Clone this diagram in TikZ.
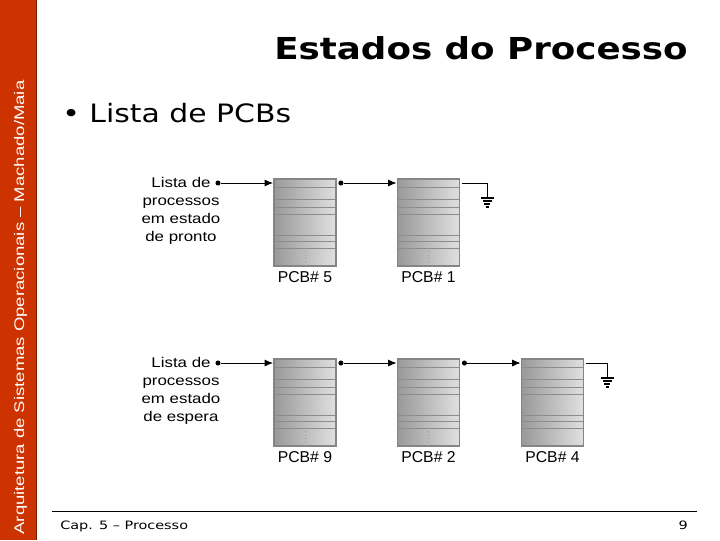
\documentclass[tikz,border=0pt]{standalone}
\usepackage{fontspec}
\setmainfont{Liberation Sans}
\newfontfamily\slidefont[FakeStretch=1.18]{DejaVu Sans}
\newfontfamily\footfont[FakeStretch=1.25]{DejaVu Sans}
\newfontfamily\figfont[FakeStretch=1.2]{Liberation Sans}
\newfontfamily\barfont[FakeStretch=1.33]{Liberation Sans}
\usetikzlibrary{calc,positioning,arrows.meta}
\definecolor{barred}{RGB}{204,51,0}
\definecolor{bardark}{RGB}{120,30,0}

\tikzset{
  pcb/.style={draw=black!48, line width=1.3pt, left color=black!40, right color=black!12,
    minimum width=1.55cm, minimum height=2.175cm, inner sep=0pt},
  sep/.style={black!45, line width=0.7pt},
  lst/.style={font=\figfont\fontsize{10}{12.75}\selectfont, align=center, inner sep=0pt, anchor=north},
  lbl/.style={font=\fontsize{11.2}{13}\selectfont, inner sep=0pt},
  dot/.style={circle, fill=black, inner sep=0pt, minimum size=3.6pt},
  arr/.style={-{Latex[length=6pt,width=5pt]}, line width=0.7pt},
  gnd/.pic={
    \draw[line width=0.9pt] (-6.5,0) -- (6.5,0) (-4.5,3) -- (4.5,3) (-3,6) -- (3,6) (-1.5,9) -- (1.5,9);
  }
}

\begin{document}
\begin{tikzpicture}[x=0.025cm,y=-0.025cm]
\useasboundingbox (0,0) rectangle (720,540);

% side bar
\fill[barred] (0,0) rectangle (36,540);
\draw[bardark, line width=0.8pt] (36.5,0) -- (36.5,540);
\node[white, rotate=90, anchor=base, inner sep=0pt, font=\barfont\fontsize{9.9}{12}\selectfont] (bar) at (24,307.5)
  {Arquitetura de Sistemas Operacionais – Machado/Maia};

% title and bullet
\node[anchor=base east, inner sep=0pt, font=\slidefont\bfseries\fontsize{21.5}{26}\selectfont] (title) at (688,59) {Estados do Processo};
\node[anchor=base west, inner sep=0pt, font=\slidefont\fontsize{18}{22}\selectfont] (item) at (62,122) {\textbullet\ Lista de PCBs};

% footer
\draw[line width=0.7pt] (52,511) -- (697,511);
\node[anchor=base west, inner sep=0pt, font=\footfont\fontsize{8.2}{10}\selectfont] (cap) at (60,529.5) {Cap. 5 – Processo};
\node[anchor=base east, inner sep=0pt, font=\footfont\fontsize{8.2}{10}\selectfont] (pg) at (688,529.5) {9};

% list heads
\node[lst] (tp) at (181,177) {Lista de\\processos\\em estado\\de pronto};
\node[lst] (te) at (181,357) {Lista de\\processos\\em estado\\de espera};
\node[dot] (lp) at (218,183) {};
\node[dot] (le) at (218,363) {};

% PCBs
\node[pcb] (p5) at (305,222.5) {};
\node[pcb] (p1) at (428.5,222.5) {};
\node[pcb] (p9) at (305,402.5) {};
\node[pcb] (p2) at (428.5,402.5) {};
\node[pcb] (p4) at (552.5,402.5) {};

\foreach \b in {p5,p1,p9,p2,p4}
  \foreach \o in {9,21,29,36,57,63,70}
    \draw[sep] ($(\b.north west)+(1.5,\o)$) -- ($(\b.north east)+(-1.5,\o)$);
\foreach \b in {p5,p1,p9,p2}
  \draw[dotted, black!40] ($(\b.north)+(0,70)$) -- ($(\b.south)+(0,-1.5)$);

% names
\node[lbl, below=3.2pt of p5] (n5) {PCB\# 5};
\node[lbl, below=3.2pt of p1] (n1) {PCB\# 1};
\node[lbl, below=3.2pt of p9] (n9) {PCB\# 9};
\node[lbl, below=3.2pt of p2] (n2) {PCB\# 2};
\node[lbl, below=3.2pt of p4] (n4) {PCB\# 4};

% links
\node[dot] (s5) at ($(p5.east |- lp)+(4,0)$) {};
\node[dot] (s9) at ($(p9.east |- le)+(4,0)$) {};
\node[dot] (s2) at ($(p2.east |- le)+(4,0)$) {};

\draw[arr] (lp) -- (p5.west |- lp);
\draw[arr] (s5) -- (p1.west |- lp);
\draw[arr] (le) -- (p9.west |- le);
\draw[arr] (s9) -- (p2.west |- le);
\draw[arr] (s2) -- (p4.west |- le);

% ground
\coordinate (g1) at ($(p1.east |- lp)+(27,0)$);
\coordinate (g4) at ($(p4.east |- le)+(23,0)$);
\draw[line width=0.7pt] ($(p1.east |- lp)+(2,0)$) -- (g1) -- ++(0,15) pic {gnd};
\draw[line width=0.7pt] ($(p4.east |- le)+(2,0)$) -- (g4) -- ++(0,15) pic {gnd};
\end{tikzpicture}
\end{document}
